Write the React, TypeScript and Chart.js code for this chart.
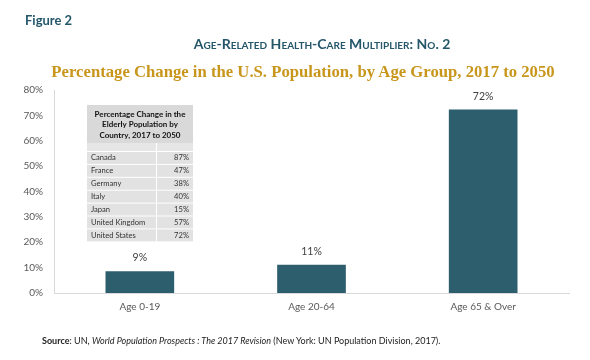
import React, { useEffect, useRef } from "react";
import { Chart, registerables } from "chart.js";

Chart.register(...registerables);

const categories = ["Age 0-19", "Age 20-64", "Age 65 & Over"];
const changeValues = [8.6, 11.1, 72.3];
const yTicks = [0, 10, 20, 30, 40, 50, 60, 70, 80];
const tableHeader = ["Percentage Change in the", "Elderly Population by", "Country, 2017 to 2050"];
const tableCountries = ["Canada", "France", "Germany", "Italy", "Japan", "United Kingdom", "United States"];
const tableValues = [87, 47, 38, 40, 15, 57, 72];

const BAR = "#2c5e6d";
const FONT = "Lato, 'Open Sans', sans-serif";

const overlayPlugin = {
  id: "overlay",
  afterDatasetsDraw(chart: any) {
    const ctx = chart.ctx;
    const meta = chart.getDatasetMeta(0);
    ctx.save();
    ctx.fillStyle = "#404040";
    ctx.font = `10.5px ${FONT}`;
    ctx.textAlign = "center";
    ctx.textBaseline = "bottom";
    meta.data.forEach((el: any, i: number) => {
      ctx.fillText(Math.round(changeValues[i]) + "%", el.x, el.y - 8);
    });
    // inset table
    const ca = chart.chartArea;
    const x0 = ca.left + 33;
    const x1 = x0 + 106;
    const xDiv = x0 + 69;
    const y0 = ca.top + 15;
    const headerH = 38;
    ctx.fillStyle = "#d9d9d9";
    ctx.fillRect(x0, y0, x1 - x0, headerH);
    ctx.fillStyle = "#111";
    ctx.font = `bold 8px ${FONT}`;
    ctx.textBaseline = "middle";
    tableHeader.forEach((t, i) => ctx.fillText(t, (x0 + x1) / 2, y0 + 9 + i * 10.8));
    const emptyTop = y0 + headerH;
    const rowH = 12.9;
    ctx.fillStyle = "#e6e6e6";
    ctx.fillRect(x0, emptyTop, x1 - x0, 8);
    const rowsTop = emptyTop + 8;
    tableCountries.forEach((c, i) => {
      const ry = rowsTop + i * rowH;
      ctx.fillStyle = "#e2e2e2";
      ctx.fillRect(x0, ry + 1, x1 - x0, rowH - 1);
      ctx.fillStyle = "#333";
      ctx.font = `7.6px ${FONT}`;
      ctx.textAlign = "left";
      ctx.fillText(c, x0 + 4, ry + rowH / 2 + 0.5);
      ctx.textAlign = "right";
      ctx.fillText(tableValues[i] + "%", x1 - 4, ry + rowH / 2 + 0.5);
    });
    ctx.strokeStyle = "#ffffff";
    ctx.lineWidth = 1;
    ctx.beginPath();
    ctx.moveTo(xDiv + 0.5, emptyTop);
    ctx.lineTo(xDiv + 0.5, rowsTop + tableCountries.length * rowH);
    ctx.stroke();
    ctx.restore();
  },
};

export default function App() {
  const ref = useRef<HTMLCanvasElement>(null);
  useEffect(() => {
    if (!ref.current) return;
    const chart = new Chart(ref.current, {
      type: "bar",
      data: {
        labels: categories,
        datasets: [
          {
            data: changeValues,
            backgroundColor: BAR,
            barPercentage: 0.8,
            categoryPercentage: 0.5,
          },
        ],
      },
      options: {
        animation: false,
        responsive: false,
        maintainAspectRatio: false,
        layout: { padding: { left: 0, right: 21, top: 90, bottom: 27 } },
        plugins: { legend: { display: false }, tooltip: { enabled: false }, title: { display: false } },
        scales: {
          x: {
            grid: { display: false, drawTicks: false },
            border: { display: true, color: "#d9d9d9", width: 1 },
            ticks: { color: "#595959", font: { family: FONT, size: 10 }, padding: 8 },
            afterFit(s: any) {
              s.height = 40;
            },
          },
          y: {
            min: 0,
            max: 80,
            afterBuildTicks(s: any) {
              s.ticks = yTicks.map((v) => ({ value: v }));
            },
            grid: { display: false, drawTicks: false },
            border: { display: true, color: "#d9d9d9", width: 1 },
            ticks: {
              color: "#595959",
              font: { family: FONT, size: 10 },
              padding: 11,
              callback: (v: any) => v + "%",
            },
            afterFit(s: any) {
              s.width = 54;
            },
          },
        },
      },
      plugins: [overlayPlugin],
    });
    return () => chart.destroy();
  }, []);

  return (
    <div style={{ position: "fixed", left: 0, top: 0, width: 590, height: 360, background: "#fff", overflow: "hidden" }}>
      <canvas ref={ref} width={590} height={360} style={{ position: "absolute", left: 0, top: 0 }} />
      <div
        style={{
          position: "absolute",
          left: 25,
          top: 12,
          fontFamily: FONT,
          fontWeight: 700,
          fontSize: 13,
          color: "#24576a",
        }}
      >
        Figure 2
      </div>
      <div
        style={{
          position: "absolute",
          left: 0,
          width: 644,
          top: 35,
          textAlign: "center",
          fontFamily: FONT,
          fontWeight: 700,
          fontSize: 14,
          fontVariant: "small-caps",
          color: "#24576a",
          whiteSpace: "nowrap",
        }}
      >
        Age-Related Health-Care Multiplier: No. 2
      </div>
      <div
        style={{
          position: "absolute",
          left: 0,
          width: 606,
          top: 62,
          textAlign: "center",
          fontFamily: "'Liberation Serif', serif",
          fontWeight: 700,
          fontSize: 16.7,
          color: "#c9961c",
          whiteSpace: "nowrap",
        }}
      >
        Percentage Change in the U.S. Population, by Age Group, 2017 to 2050
      </div>
      <div
        style={{
          position: "absolute",
          left: 42,
          top: 335,
          fontFamily: FONT,
          fontSize: 9,
          color: "#222",
          whiteSpace: "nowrap",
        }}
      >
        <b>Source</b>: UN, <i>World Population Prospects : The 2017 Revision</i> (New York: UN Population Division, 2017).
      </div>
    </div>
  );
}
